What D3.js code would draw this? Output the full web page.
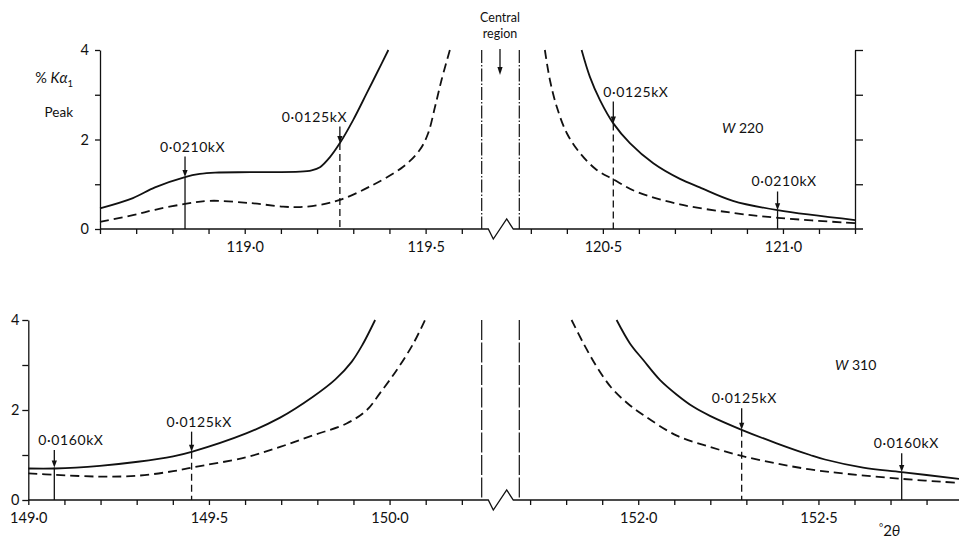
<!DOCTYPE html>
<html>
<head>
<meta charset="utf-8">
<script src="https://cdn.jsdelivr.net/npm/d3@7"></script>
<style>
  html, body { margin: 0; padding: 0; background: #fff; }
  svg { display: block; font-family: "Lato", "Open Sans", sans-serif; }
  .axis text { font-family: "Lato", "Open Sans", sans-serif; font-size: 14.5px; fill: #111; }
  .axis line, .axis path { stroke: #111; stroke-width: 1.3; }
</style>
</head>
<body>
<script>
// ---------------- DATA ----------------
// Upper panel (W 220): [2θ degrees, % Kα1 peak]
const w220SolidLeft = [[118.6,0.46],[118.691,0.69],[118.752,0.93],[118.835,1.16],[118.876,1.23],[118.918,1.26],[119.015,1.27],[119.153,1.28],[119.185,1.31],[119.208,1.38],[119.235,1.6],[119.263,1.92],[119.300,2.44],[119.337,3.03],[119.365,3.48],[119.397,4.0]];
const w220DashLeft  = [[118.6,0.16],[118.691,0.31],[118.752,0.43],[118.835,0.56],[118.904,0.63],[119.015,0.58],[119.106,0.50],[119.153,0.49],[119.208,0.54],[119.263,0.65],[119.346,0.95],[119.438,1.39],[119.484,1.77],[119.507,2.14],[119.526,2.73],[119.544,3.33],[119.567,4.0]];
const w220DashRight = [[120.339,4.0],[120.353,3.33],[120.372,2.73],[120.400,2.14],[120.437,1.69],[120.483,1.32],[120.529,1.11],[120.594,0.83],[120.714,0.55],[120.861,0.36],[120.985,0.25],[121.2,0.13]];
const w220SolidRight= [[120.441,4.0],[120.464,3.40],[120.492,2.88],[120.529,2.36],[120.575,1.92],[120.640,1.47],[120.714,1.12],[120.769,0.93],[120.861,0.63],[120.985,0.42],[121.2,0.20]];

// Lower panel (W 310)
const w310SolidLeft = [[149.0,0.70],[149.074,0.70],[149.198,0.76],[149.303,0.85],[149.401,0.97],[149.452,1.07],[149.603,1.48],[149.697,1.83],[149.789,2.30],[149.850,2.68],[149.895,3.07],[149.925,3.45],[149.960,4.0]];
const w310DashLeft  = [[149.0,0.59],[149.074,0.56],[149.198,0.52],[149.303,0.54],[149.401,0.64],[149.452,0.72],[149.603,0.95],[149.697,1.18],[149.789,1.44],[149.881,1.70],[149.937,2.0],[149.973,2.37],[150.020,2.89],[150.066,3.48],[150.098,4.0]];
const w310DashRight = [[151.815,4.0],[151.848,3.48],[151.885,2.96],[151.925,2.50],[151.970,2.15],[152.014,1.89],[152.107,1.43],[152.199,1.18],[152.287,0.98],[152.384,0.81],[152.477,0.68],[152.579,0.58],[152.731,0.47],[152.89,0.38]];
const w310SolidRight= [[151.940,4.0],[151.977,3.48],[152.014,3.11],[152.060,2.67],[152.107,2.34],[152.153,2.07],[152.199,1.87],[152.287,1.56],[152.384,1.26],[152.477,1.0],[152.518,0.90],[152.624,0.72],[152.731,0.62],[152.89,0.47]];

// Wavelength annotations: x (°2θ), label, value at arrow tip, label level, style of drop line
const w220Notes = [
  {x:118.835, label:"0·0210kX", tip:1.16, level:1.73, drop:"solid"},
  {x:119.263, label:"0·0125kX", tip:1.92, level:2.40, drop:"dashed"},
  {x:120.529, label:"0·0125kX", tip:2.36, level:2.96, drop:"dashed"},
  {x:120.985, label:"0·0210kX", tip:0.42, level:0.95, drop:"solid"}
];
const w310Notes = [
  {x:149.072, label:"0·0160kX", tip:0.72, level:1.22, drop:"solid"},
  {x:149.452, label:"0·0125kX", tip:1.07, level:1.63, drop:"dashed"},
  {x:152.287, label:"0·0125kX", tip:1.56, level:2.15, drop:"dashed"},
  {x:152.731, label:"0·0160kX", tip:0.62, level:1.15, drop:"solid"}
];

// Axis ticks
const yTicks = [0,1,2,3,4];
const yTickLabels = [0,2,4];
const w220TicksLeft  = [118.6,118.7,118.8,118.9,119.0,119.1,119.2,119.3,119.4,119.5,119.6];
const w220TicksRight = [120.3,120.4,120.5,120.6,120.7,120.8,120.9,121.0,121.1,121.2];
const w220Labels = [119.0,119.5,120.5,121.0];
const w310TicksLeft  = [149.0,149.1,149.2,149.3,149.4,149.5,149.6,149.7,149.8,149.9,150.0,150.1,150.2];
const w310TicksRight = [151.7,151.8,151.9,152.0,152.1,152.2,152.3,152.4,152.5,152.6,152.7,152.8];
const w310Labels = [149.0,149.5,150.0,152.0,152.5];

// ---------------- LAYOUT ----------------
const W = 959, H = 538;
const svg = d3.select("body").append("svg").attr("width", W).attr("height", H);

const fmt = v => d3.format(".1f")(v).replace(".", "·");
const breakL = 481.7, breakR = 519.3;

const panels = [
  {
    y0: 229, y4: 50, axisX: 100, rightEnd: 863,
    xl: d3.scaleLinear().domain([118.6, 119.655]).range([100, breakL]),
    xr: d3.scaleLinear().domain([120.268, 121.2]).range([breakR, 855]),
    ticksL: w220TicksLeft, ticksR: w220TicksRight, labels: w220Labels,
    solidL: w220SolidLeft, dashL: w220DashLeft, solidR: w220SolidRight, dashR: w220DashRight,
    notes: w220Notes, noteShift: [-25, -58, -10, -26],
    yTickSize: 5, yPad: 6, rightAxis: 855, breakDash: "13,2,1.5,2"
  },
  {
    y0: 500, y4: 320, axisX: 28.3, rightEnd: 959,
    xl: d3.scaleLinear().domain([149.0, 150.255]).range([28.3, breakL]),
    xr: d3.scaleLinear().domain([151.67, 152.89]).range([breakR, 959]),
    ticksL: w310TicksLeft, ticksR: w310TicksRight, labels: w310Labels,
    solidL: w310SolidLeft, dashL: w310DashLeft, solidR: w310SolidRight, dashR: w310DashRight,
    notes: w310Notes, noteShift: [-16, -25, -30, -28],
    yTickSize: 6, yPad: 3, rightAxis: null, breakDash: "20,2.5"
  }
];

panels.forEach(p => {
  const g = svg.append("g");
  const y = d3.scaleLinear().domain([0, 4]).range([p.y0, p.y4]);
  const lab = v => p.labels.some(l => Math.abs(l - v) < 1e-6) ? fmt(v) : "";

  // x axes (two segments)
  [[p.xl, p.ticksL], [p.xr, p.ticksR]].forEach(([sc, tv]) => {
    const ax = g.append("g").attr("class", "axis").attr("transform", `translate(0,${p.y0})`)
      .call(d3.axisBottom(sc).tickValues(tv).tickFormat(lab).tickSize(5).tickSizeOuter(0).tickPadding(8));
    ax.select(".domain").remove();
  });
  // baseline with zigzag break
  const base = d3.path();
  base.moveTo(p.axisX, p.y0); base.lineTo(breakL, p.y0);
  base.lineTo(breakL + 6.6, p.y0);
  base.lineTo(breakL + 11.6, p.y0 + 10);
  base.lineTo(breakL + 25, p.y0 - 10);
  base.lineTo(breakL + 31.6, p.y0);
  base.lineTo(p.rightEnd, p.y0);
  g.append("path").attr("d", base.toString()).attr("fill", "none").attr("stroke", "#111").attr("stroke-width", 1.3);

  // y axis left
  g.append("g").attr("class", "axis").attr("transform", `translate(${p.axisX},0)`)
    .call(d3.axisLeft(y).tickValues(yTicks).tickFormat(d => yTickLabels.includes(d) ? d : "")
      .tickSize(p.yTickSize).tickSizeOuter(0).tickPadding(p.yPad));

  // right axis (upper panel)
  if (p.rightAxis) {
    g.append("g").attr("class", "axis").attr("transform", `translate(${p.rightAxis},0)`)
      .call(d3.axisRight(y).tickValues([1,2,3,4]).tickFormat("").tickSize(8).tickSizeOuter(0));
  }

  // central-region break lines
  [breakL, breakR].forEach(bx => {
    g.append("line").attr("x1", bx).attr("x2", bx).attr("y1", p.y4).attr("y2", p.y0)
      .attr("stroke", "#111").attr("stroke-width", 1.2).attr("stroke-dasharray", p.breakDash);
  });

  // curves
  const lineL = d3.line().x(d => p.xl(d[0])).y(d => y(d[1])).curve(d3.curveCatmullRom.alpha(0.5));
  const lineR = d3.line().x(d => p.xr(d[0])).y(d => y(d[1])).curve(d3.curveCatmullRom.alpha(0.5));
  [[p.solidL, lineL, null], [p.dashL, lineL, "9,5"], [p.solidR, lineR, null], [p.dashR, lineR, "9,5"]]
    .forEach(([data, ln, dash]) => {
      g.append("path").datum(data).attr("d", ln).attr("fill", "none").attr("stroke", "#111")
        .attr("stroke-width", 1.8).attr("stroke-dasharray", dash);
    });

  // annotations
  p.notes.forEach((n, i) => {
    const sc = n.x < p.xl.domain()[1] ? p.xl : p.xr;
    const ax = sc(n.x), ty = y(n.tip), ly = y(n.level);
    g.append("text").attr("x", ax + p.noteShift[i]).attr("y", ly)
      .attr("font-size", 14).attr("letter-spacing", 0.6).attr("fill", "#111").text(n.label);
    g.append("line").attr("x1", ax).attr("x2", ax).attr("y1", ly + 5).attr("y2", ty - 5)
      .attr("stroke", "#111").attr("stroke-width", 1.3);
    g.append("path").attr("d", `M${ax - 2.6},${ty - 7} L${ax + 2.6},${ty - 7} L${ax},${ty} Z`).attr("fill", "#111");
    g.append("line").attr("x1", ax).attr("x2", ax).attr("y1", ty).attr("y2", p.y0)
      .attr("stroke", "#111").attr("stroke-width", 1.3)
      .attr("stroke-dasharray", n.drop === "dashed" ? "7,4" : null);
  });
});

// ---------------- TEXTS ----------------
const t1 = svg.append("text").attr("x", 73).attr("y", 83).attr("text-anchor", "end").attr("font-size", 14.5).attr("fill", "#111");
t1.append("tspan").text("% ");
t1.append("tspan").attr("font-style", "italic").text("Kα");
t1.append("tspan").attr("font-size", 9.5).attr("dy", 4).text("1");
svg.append("text").attr("x", 73).attr("y", 117).attr("text-anchor", "end").attr("font-size", 13.5).attr("fill", "#111").text("Peak");

svg.append("text").attr("x", 500).attr("y", 22).attr("text-anchor", "middle").attr("font-size", 12.5).attr("fill", "#111").text("Central");
svg.append("text").attr("x", 500).attr("y", 38).attr("text-anchor", "middle").attr("font-size", 12.5).attr("fill", "#111").text("region");
svg.append("line").attr("x1", 500).attr("x2", 500).attr("y1", 49).attr("y2", 68).attr("stroke", "#111").attr("stroke-width", 1.3);
svg.append("path").attr("d", "M497.4,67 L502.6,67 L500,75 Z").attr("fill", "#111");

const w1 = svg.append("text").attr("x", 722).attr("y", 133).attr("font-size", 14).attr("fill", "#111");
w1.append("tspan").attr("font-style", "italic").text("W");
w1.append("tspan").text(" 220");
const w2 = svg.append("text").attr("x", 835).attr("y", 370).attr("font-size", 14).attr("fill", "#111");
w2.append("tspan").attr("font-style", "italic").text("W");
w2.append("tspan").text(" 310");

const th = svg.append("text").attr("x", 879).attr("y", 536).attr("font-size", 15).attr("fill", "#111");
th.append("tspan").attr("font-size", 10).attr("dy", -5).text("°");
th.append("tspan").attr("dy", 5).text("2");
th.append("tspan").attr("font-style", "italic").text("θ");
</script>
</body>
</html>
